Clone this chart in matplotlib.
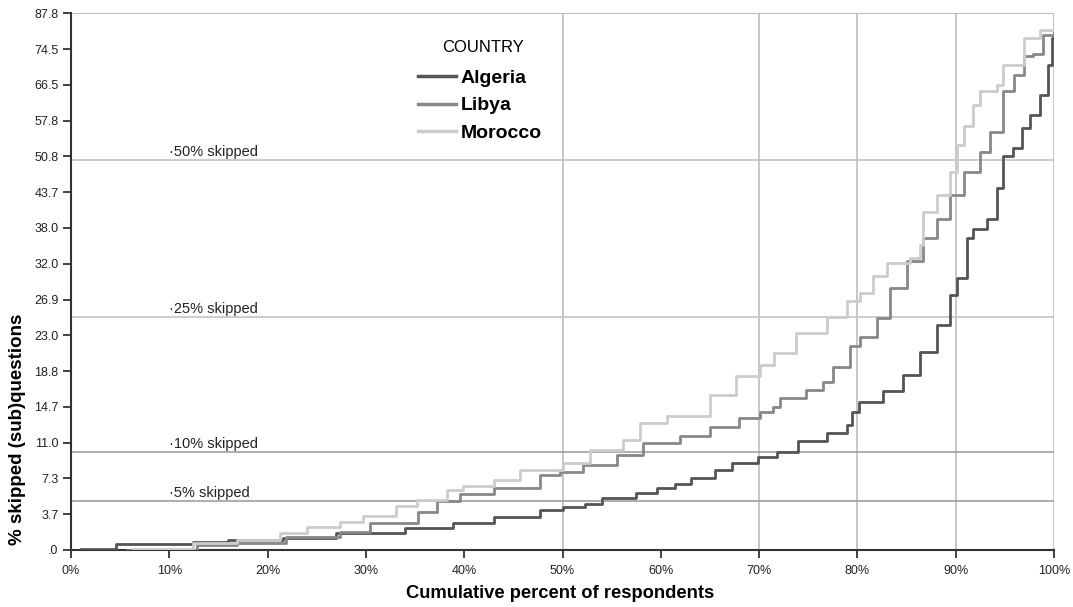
import numpy as np
import matplotlib
matplotlib.use("Agg")
import matplotlib.pyplot as plt
from matplotlib.ticker import FixedLocator, FixedFormatter

plt.rcParams['font.family'] = ['Liberation Sans', 'DejaVu Sans']

#---------------------DATA--------------------#
# y axis ticks (axis is spaced evenly by tick, not by value)
y_ticks = [0.0, 3.7, 7.3, 11.0, 14.7, 18.8, 23.0, 26.9, 32.0, 38.0,
           43.7, 50.8, 57.8, 66.5, 74.5, 87.8]
x_ticks = [0, 10, 20, 30, 40, 50, 60, 70, 80, 90, 100]
x_grid = [50, 70, 80, 90, 100]
ref_levels = [5, 10, 25, 50]

countries = ['Algeria', 'Libya', 'Morocco']

algeria_x = [1.0, 4.6, 12.4, 16.0, 21.6, 27.0, 34.0, 38.9, 43.0, 47.7, 50.0,
             52.3, 54.0, 57.5, 59.6, 61.4, 63.1, 65.5, 67.2, 69.9, 71.8, 74.0,
             76.9, 78.9, 79.4, 80.2, 82.6, 84.6, 86.4, 88.1, 89.4, 90.1, 91.1,
             91.8, 93.2, 94.2, 94.8, 95.8, 96.7, 97.6, 98.6, 99.4, 99.8, 100]
algeria_y = [0.1, 0.62, 0.8, 1.0, 1.21, 1.73, 2.24, 2.82, 3.44, 4.1, 4.46,
             4.7, 5.37, 5.87, 6.3, 6.77, 7.38, 8.17, 8.85, 9.55, 10.05, 11.2,
             11.96, 12.8, 14.2, 15.3, 16.5, 18.4, 21.1, 24.1, 27.5, 30.0, 36.3,
             37.9, 39.5, 44.5, 50.9, 52.4, 56.3, 59.2, 64.1, 71.0, 78.5, 87.8]

libya_x = [5.7, 12.8, 16.9, 21.9, 27.4, 30.4, 35.3, 37.2, 39.6, 43.0, 47.7,
           49.7, 52.1, 55.5, 58.2, 62.0, 65.0, 68.0, 70.1, 71.4, 72.1, 74.8,
           76.5, 77.5, 79.2, 80.3, 82.0, 83.3, 85.0, 86.7, 88.1, 89.4, 90.8,
           92.5, 93.5, 94.8, 95.9, 96.9, 97.9, 98.9, 100]
libya_y = [0.0, 0.52, 0.75, 1.31, 1.89, 2.82, 3.96, 4.98, 5.7, 6.37, 7.66,
           7.99, 8.69, 9.7, 10.95, 11.7, 12.6, 13.5, 14.2, 14.7, 15.7, 16.6,
           17.6, 19.3, 21.7, 22.8, 24.9, 28.5, 32.4, 36.3, 39.5, 43.2, 47.8,
           51.7, 55.6, 64.9, 68.8, 73.0, 73.5, 79.8, 87.8]

morocco_x = [6.3, 12.4, 16.9, 21.3, 24.0, 27.4, 29.7, 33.1, 35.2, 38.2, 39.9,
             43.0, 45.7, 50.0, 52.8, 56.2, 57.9, 60.6, 65.0, 67.7, 70.1, 71.5,
             73.8, 76.9, 78.9, 80.3, 81.6, 83.0, 85.4, 86.4, 86.7, 88.1, 89.4,
             90.1, 90.8, 91.8, 92.5, 94.2, 94.8, 96.9, 98.6, 100]
morocco_y = [0.1, 0.69, 1.03, 1.72, 2.41, 2.93, 3.52, 4.53, 5.13, 6.1, 6.49,
             7.1, 8.17, 8.85, 10.2, 11.27, 13.0, 13.8, 16.1, 18.2, 19.5, 20.9,
             23.2, 25.0, 26.7, 27.8, 30.3, 32.1, 32.9, 35.1, 40.6, 43.2, 47.8,
             53.0, 56.8, 61.6, 64.9, 66.5, 71.0, 78.5, 81.5, 87.8]

colors = ['#555555', '#888888', '#cccccc']

#---------------------PLOT--------------------#
idx = np.arange(len(y_ticks), dtype=float)

def fwd(v):
    return np.interp(v, y_ticks, idx)

def inv(i):
    return np.interp(i, idx, y_ticks)

W, H = 1073, 607
fig = plt.figure(figsize=(W / 100, H / 100), dpi=100)
ax = fig.add_axes([71 / W, (H - 550) / H, (1054 - 71) / W, (550 - 13.3) / H])
ax.set_yscale('function', functions=(fwd, inv))
ax.set_xlim(0, 100)
ax.set_ylim(0, 87.8)

# grid / reference lines
for gx in x_grid:
    ax.axvline(gx, color='#bdbdbd', lw=1.2, zorder=1)
ax.axhline(87.8, color='#b0b0b0', lw=1.2, zorder=1)
for lev in ref_levels:
    c = '#c4c4c4' if lev >= 25 else '#a0a0a0'
    ax.axhline(lev, color=c, lw=1.2, zorder=1)
    ax.annotate('\u00b7%d%% skipped' % lev, xy=(10, lev), xytext=(0, 1),
                textcoords='offset points', ha='left', va='bottom',
                fontsize=10.5, color='#222222')

series = [(algeria_x, algeria_y), (libya_x, libya_y), (morocco_x, morocco_y)]
for name, (xs, ys), c in zip(countries, series, colors):
    ax.step(xs, ys, where='post', color=c, lw=2.0, label=name, zorder=3)

ax.yaxis.set_major_locator(FixedLocator(y_ticks))
ax.yaxis.set_major_formatter(FixedFormatter(
    ['.0' if v == 0 else '%.1f' % v for v in y_ticks]))
ax.yaxis.set_minor_locator(FixedLocator([]))
ax.set_xticks(x_ticks)
ax.set_xticklabels(['%d%%' % v for v in x_ticks])
ax.tick_params(axis='both', direction='out', length=6, width=1.2,
               color='#222222', labelsize=9, labelcolor='#222222')
ax.tick_params(axis='x', pad=5)
ax.tick_params(axis='y', pad=3)

for s in ['top', 'right']:
    ax.spines[s].set_visible(False)
for s in ['left', 'bottom']:
    ax.spines[s].set_color('#333333')
    ax.spines[s].set_linewidth(1.5)

fig.text(560 / W, 1 - 594 / H, 'Cumulative percent of respondents',
         ha='center', va='center', fontsize=13.2, fontweight='bold')
fig.text(18 / W, 1 - 429 / H, '% skipped (sub)questions', rotation=90,
         ha='center', va='center', fontsize=13.5, fontweight='bold')

# legend title drawn separately so the gap matches
fig.text(483 / W, 1 - 47 / H, 'COUNTRY', ha='center', va='center', fontsize=12)
leg = ax.legend(loc='upper left', bbox_to_anchor=(0.335, 0.928), frameon=False,
                prop={'weight': 'bold', 'size': 14},
                handlelength=1.95, handletextpad=0.25, labelspacing=0.5)
for h in leg.get_lines():
    h.set_linewidth(2.5)

fig.savefig('out.png', dpi=100)
